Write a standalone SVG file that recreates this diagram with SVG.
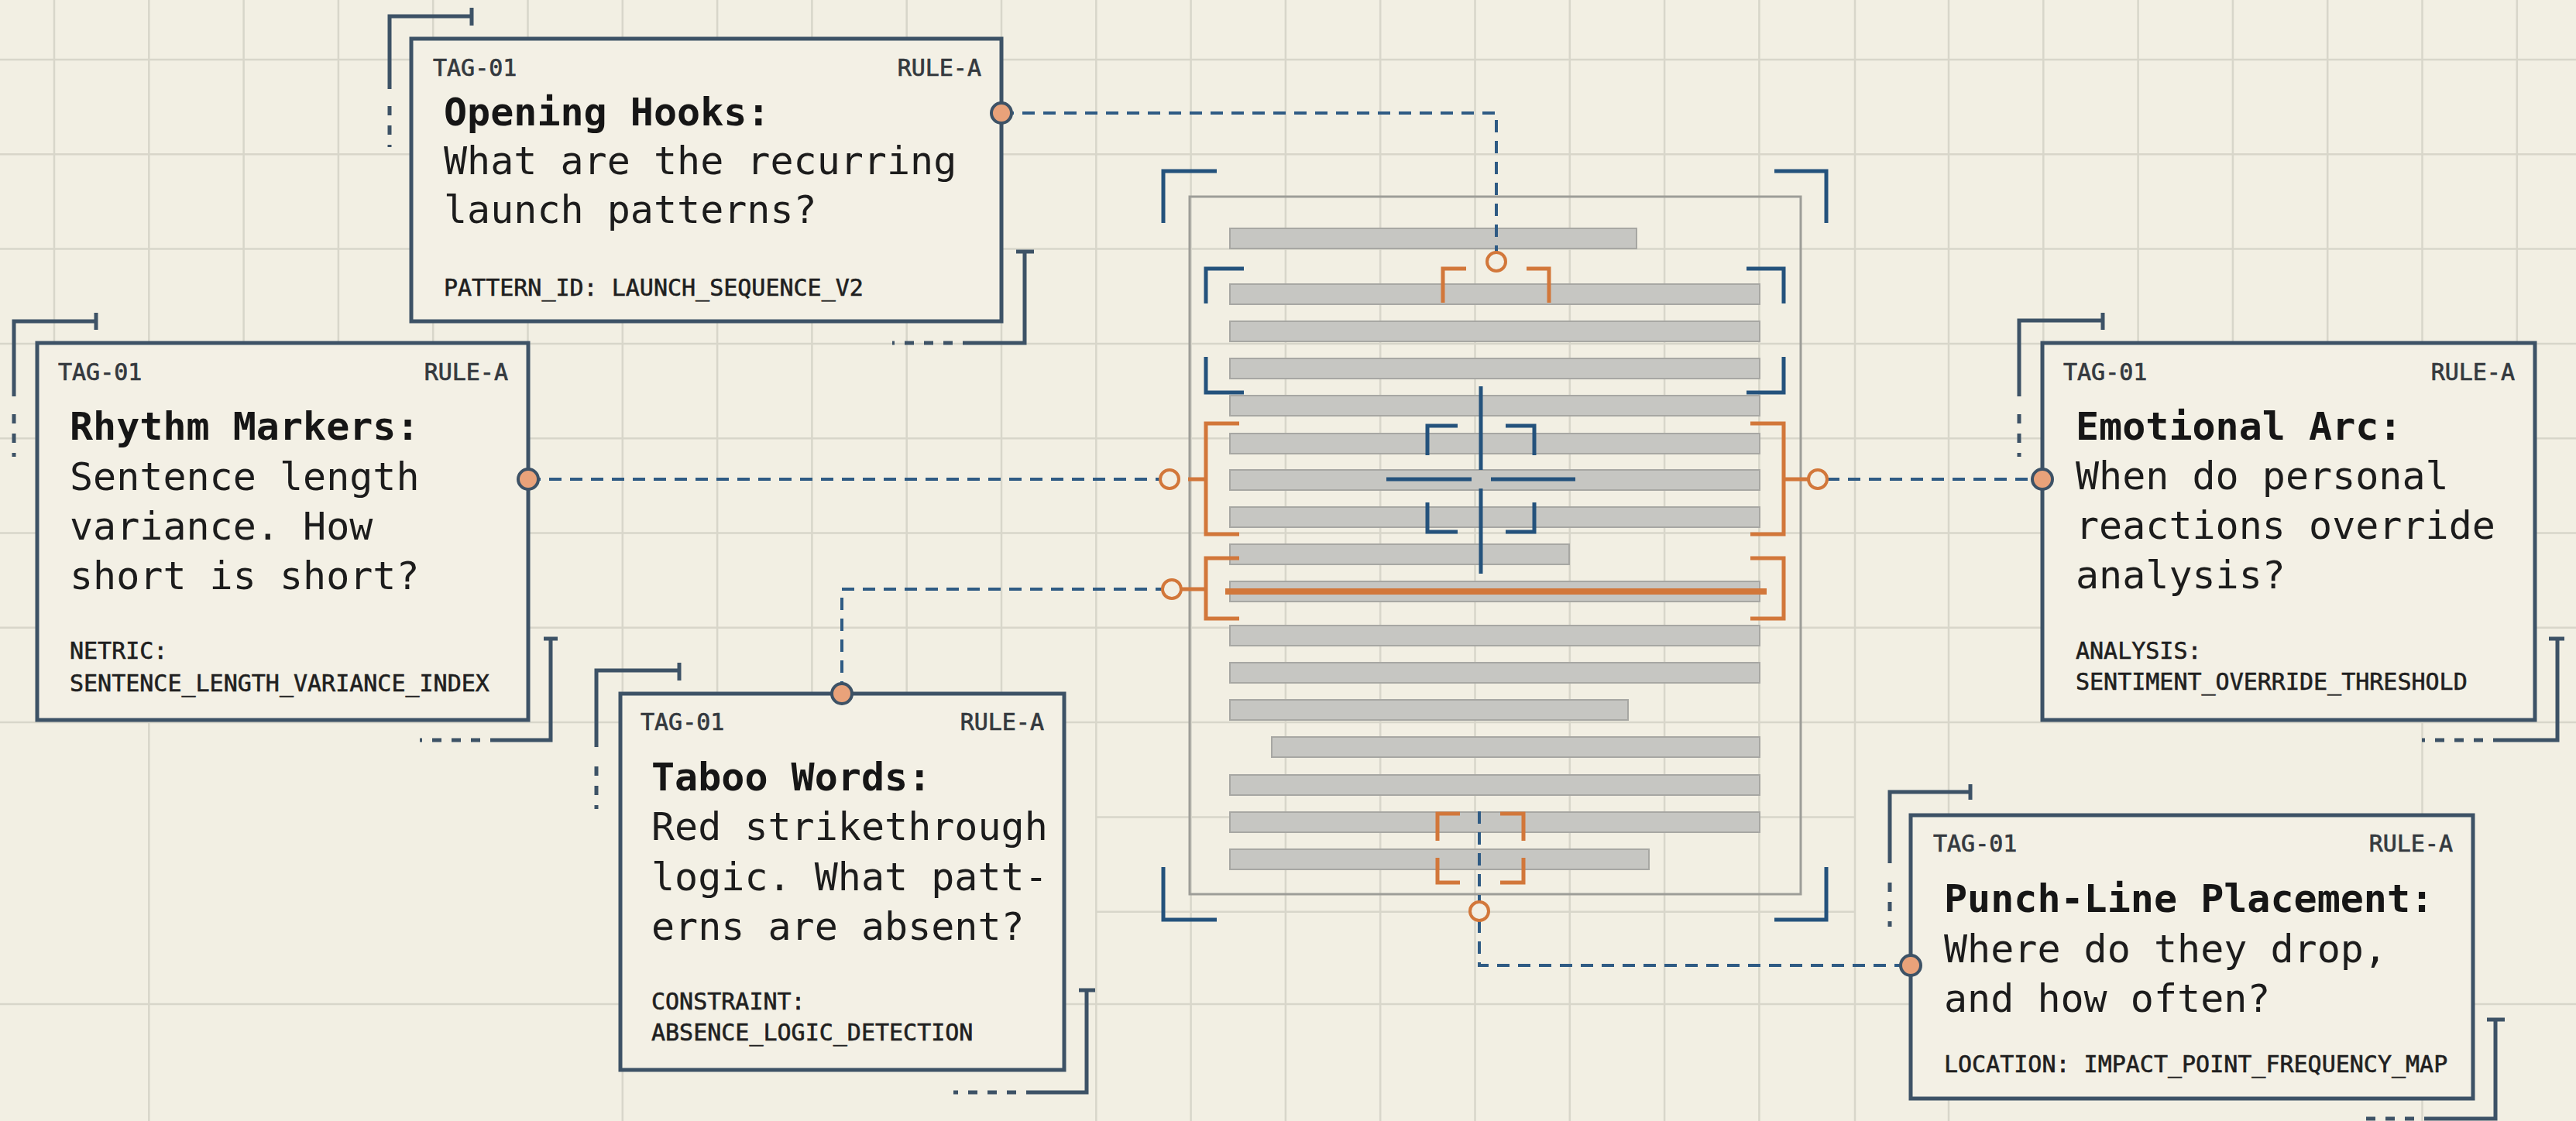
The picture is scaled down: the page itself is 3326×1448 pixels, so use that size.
<svg xmlns="http://www.w3.org/2000/svg" width="3326" height="1448" viewBox="0 0 3326 1448">
<defs>
<style>
.bg{fill:#f2efe3}
.grid{stroke:#d8d6ca;stroke-width:2.5;fill:none}
.box{fill:#f3f0e5;stroke:#3d5266;stroke-width:5}
.brk{stroke:#3d5266;stroke-width:5;fill:none}
.brkd{stroke:#3d5266;stroke-width:5;fill:none;stroke-dasharray:12 13}
.conn{stroke:#2f5b84;stroke-width:4;fill:none;stroke-dasharray:16 11}
.port{fill:#e9a27a;stroke:#3d5266;stroke-width:4}
.oc{fill:#f2efe3;stroke:#d2773a;stroke-width:4}
.or{stroke:#d2773a;stroke-width:5;fill:none}
.bl{stroke:#24527c;stroke-width:5;fill:none}
.bar{fill:#c6c6c2;stroke:#a7a7a3;stroke-width:2}
.doc{fill:none;stroke:#9d9d98;stroke-width:3}
.lab{font-family:"DejaVu Sans Mono","Liberation Mono",monospace;font-size:30px;fill:#34393e;stroke:#34393e;stroke-width:0.7}
.ttl{font-family:"DejaVu Sans Mono","Liberation Mono",monospace;font-size:50px;font-weight:bold;fill:#161616}
.bod{font-family:"DejaVu Sans Mono","Liberation Mono",monospace;font-size:50px;fill:#1c1c1c}
.ftr{font-family:"DejaVu Sans Mono","Liberation Mono",monospace;font-size:30px;fill:#1f1f1f;stroke:#1f1f1f;stroke-width:0.6}
.end{text-anchor:end}
</style>
</defs>
<rect class="bg" x="0" y="0" width="3326" height="1448"/>
<path class="grid" d="M70 0V933M192.3 0V1448M314.6 0V933M436.9 0V933M559.2 0V933M681.5 0V933M803.8 0V1448M926.1 0V933M1048.4 0V933M1170.7 0V933M1293 0V933M1415.3 0V1448M1537.6 0V1448M1659.9 0V1448M1782.2 0V1448M1904.5 0V1448M2026.8 0V1448M2149.1 0V1448M2271.4 0V1448M2395 0V1448M2516 0V1448M2638.3 0V933M2760.6 0V933M2882.9 0V933M3005.2 0V933M3127.5 0V1448M3249.8 0V933M0 77H3326M0 199.3H3326M0 321.6H3326M0 443.9H3326M0 566.2H3326M0 688.5H3326M0 810.8H3326M0 933.1H3326M1415 1055.4H2395M1415 1177.7H2395M0 1297H3326"/>

<g id="document">
<rect class="doc" x="1536" y="254" width="789" height="901"/>
<rect class="bar" x="1588" y="295" width="525" height="26"/>
<rect class="bar" x="1588" y="367" width="684" height="26"/>
<rect class="bar" x="1588" y="415" width="684" height="26"/>
<rect class="bar" x="1588" y="463" width="684" height="26"/>
<rect class="bar" x="1588" y="511" width="684" height="26"/>
<rect class="bar" x="1588" y="560" width="684" height="26"/>
<rect class="bar" x="1588" y="607" width="684" height="26"/>
<rect class="bar" x="1588" y="655" width="684" height="26"/>
<rect class="bar" x="1588" y="703" width="438" height="26"/>
<rect class="bar" x="1588" y="751" width="684" height="26"/>
<rect class="bar" x="1588" y="808" width="684" height="26"/>
<rect class="bar" x="1588" y="856" width="684" height="26"/>
<rect class="bar" x="1588" y="904" width="514" height="26"/>
<rect class="bar" x="1642" y="952" width="630" height="26"/>
<rect class="bar" x="1588" y="1001" width="684" height="26"/>
<rect class="bar" x="1588" y="1049" width="684" height="26"/>
<rect class="bar" x="1588" y="1097" width="541" height="26"/>
<line x1="1582" y1="764" x2="2281" y2="764" stroke="#d2773a" stroke-width="8"/>
<path class="bl" d="M1502 288V221H1571M2358 288V221H2291M1502 1120V1188H1571M2358 1120V1188H2291"/>
<path class="bl" d="M1557 392V347H1606M2303 392V347H2255M1557 461V507H1606M2303 461V507H2255"/>
<path class="bl" d="M1912 499V607M1912 631V741M1790 619H1900M1925 619H2034"/>
<path class="bl" d="M1843 588V550H1882M1944 550H1981V588M1843 649V687H1882M1944 687H1981V649"/>
<path class="or" d="M1863 391V347H1893M1971 347H2000V391"/>
<path class="or" d="M1600 547H1557V690H1600M1534 619H1557M2260 547H2303V690H2260M2303 619H2335"/>
<path class="or" d="M1600 721H1557V799H1600M1525 761H1557M2260 721H2303V799H2260"/>
<path class="or" d="M1856 1086V1051H1885M1937 1051H1967V1086M1856 1108V1140H1885M1937 1140H1967V1108"/>
</g>

<g id="connectors">
<path class="conn" d="M1293 146H1932V326"/>
<path class="conn" d="M682 619H1498"/>
<path class="conn" d="M1087 896V761H1501"/>
<path class="conn" d="M2359 619H2637"/>
<path class="conn" d="M1910 1048V1165"/>
<path class="conn" d="M1910 1189V1247H2467"/>
<circle class="oc" cx="1932" cy="338" r="12"/>
<circle class="oc" cx="1510" cy="619" r="12"/>
<circle class="oc" cx="2347" cy="619" r="12"/>
<circle class="oc" cx="1513" cy="761" r="12"/>
<circle class="oc" cx="1910" cy="1177" r="12"/>
</g>

<g id="opening-hooks">
<path class="brk" d="M609 10V33M609 21H503V115M1312 325H1335M1323 325V443H1243"/>
<path class="brkd" d="M503 137V190M1230 443H1152"/>
<rect class="box" x="531" y="50" width="762" height="365"/>
<text class="lab" x="559" y="98">TAG-01</text>
<text class="lab end" x="1267" y="98">RULE-A</text>
<text class="ttl" x="573" y="162">Opening Hooks:</text>
<text class="bod" x="573" y="225">What are the recurring</text>
<text class="bod" x="573" y="288">launch patterns?</text>
<text class="ftr" x="573" y="382">PATTERN_ID: LAUNCH_SEQUENCE_V2</text>
<circle class="port" cx="1293" cy="146" r="13"/>
</g>

<g id="rhythm-markers">
<path class="brk" d="M124 404V426M124 415H18V512M702 825H720M711 825V956H633"/>
<path class="brkd" d="M18 535V590M620 956H542"/>
<rect class="box" x="48" y="443" width="634" height="487"/>
<text class="lab" x="75" y="491">TAG-01</text>
<text class="lab end" x="656" y="491">RULE-A</text>
<text class="ttl" x="90" y="568">Rhythm Markers:</text>
<text class="bod" x="90" y="633">Sentence length</text>
<text class="bod" x="90" y="697">variance. How</text>
<text class="bod" x="90" y="761">short is short?</text>
<text class="ftr" x="90" y="851">NETRIC:</text>
<text class="ftr" x="90" y="893">SENTENCE_LENGTH_VARIANCE_INDEX</text>
<circle class="port" cx="682" cy="619" r="13"/>
</g>

<g id="taboo-words">
<path class="brk" d="M877 856V879M877 866H770V965M1393 1279H1414M1403 1279V1411H1325"/>
<path class="brkd" d="M770 990V1045M1312 1411H1231"/>
<rect class="box" x="801" y="896" width="573" height="486"/>
<text class="lab" x="827" y="943">TAG-01</text>
<text class="lab end" x="1348" y="943">RULE-A</text>
<text class="ttl" x="841" y="1021">Taboo Words:</text>
<text class="bod" x="841" y="1085">Red strikethrough</text>
<text class="bod" x="841" y="1150">logic. What patt-</text>
<text class="bod" x="841" y="1214">erns are absent?</text>
<text class="ftr" x="841" y="1304">CONSTRAINT:</text>
<text class="ftr" x="841" y="1344">ABSENCE_LOGIC_DETECTION</text>
<circle class="port" cx="1087" cy="896" r="13"/>
</g>

<g id="emotional-arc">
<path class="brk" d="M2715 404V426M2715 414H2607V512M3291 825H3311M3302 825V956H3219"/>
<path class="brkd" d="M2607 535V590M3206 956H3127"/>
<rect class="box" x="2637" y="443" width="636" height="487"/>
<text class="lab" x="2664" y="491">TAG-01</text>
<text class="lab end" x="3247" y="491">RULE-A</text>
<text class="ttl" x="2680" y="568">Emotional Arc:</text>
<text class="bod" x="2680" y="632">When do personal</text>
<text class="bod" x="2680" y="696">reactions override</text>
<text class="bod" x="2680" y="760">analysis?</text>
<text class="ftr" x="2680" y="851">ANALYSIS:</text>
<text class="ftr" x="2680" y="891">SENTIMENT_OVERRIDE_THRESHOLD</text>
<circle class="port" cx="2637" cy="619" r="13"/>
</g>

<g id="punch-line-placement">
<path class="brk" d="M2544 1013V1033M2544 1023H2440V1115M3211 1317H3234M3222 1317V1445H3130"/>
<path class="brkd" d="M2440 1140V1197M3117 1445H3050"/>
<rect class="box" x="2467" y="1053" width="726" height="366"/>
<text class="lab" x="2496" y="1100">TAG-01</text>
<text class="lab end" x="3167" y="1100">RULE-A</text>
<text class="ttl" x="2510" y="1178">Punch-Line Placement:</text>
<text class="bod" x="2510" y="1243">Where do they drop,</text>
<text class="bod" x="2510" y="1307">and how often?</text>
<text class="ftr" x="2510" y="1385">LOCATION: IMPACT_POINT_FREQUENCY_MAP</text>
<circle class="port" cx="2467" cy="1247" r="13"/>
</g>
</svg>
